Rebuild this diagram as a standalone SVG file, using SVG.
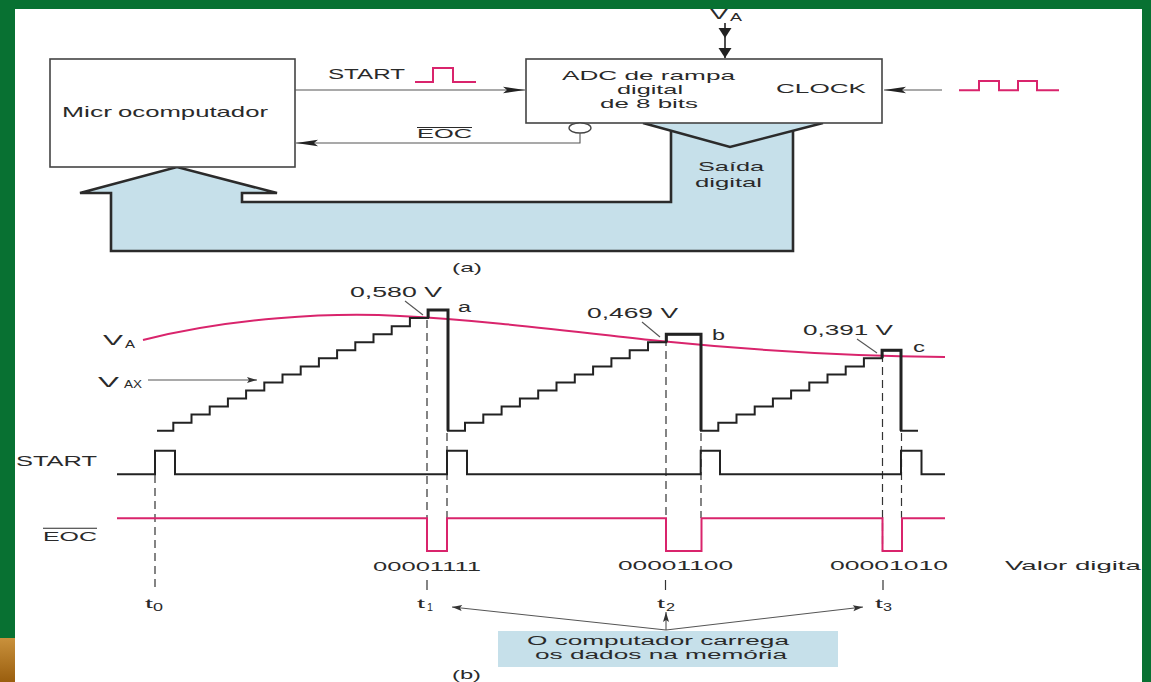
<svg xmlns="http://www.w3.org/2000/svg" width="1151" height="682" viewBox="0 0 1151 682">
<style>
text{font-family:"Liberation Sans",Arial,sans-serif;fill:#2a2a2a}
.box{fill:#fff;stroke:#444;stroke-width:1.6}
.thin{fill:none;stroke:#555;stroke-width:1.1}
.wall{fill:none;stroke:#2b2b2b;stroke-width:2.6;stroke-linejoin:miter}
.pink{fill:none;stroke:#d9246c;stroke-width:2}
.wave{fill:none;stroke:#222;stroke-width:2}
.bold{fill:none;stroke:#222;stroke-width:3}
.dash{fill:none;stroke:#333;stroke-width:1.2;stroke-dasharray:8 5}
.tick{fill:none;stroke:#333;stroke-width:1.2}
</style>
<defs>
<marker id="dart" markerUnits="userSpaceOnUse" markerWidth="24" markerHeight="10" viewBox="-23 -5 24 10" refX="0" refY="0" orient="auto">
<path d="M0,0 L-22,-3.2 L-18,0 L-22,3.2 Z" fill="#222"/>
</marker>
<marker id="tri" markerUnits="userSpaceOnUse" markerWidth="12" markerHeight="16" viewBox="-11 -8 12 16" refX="0" refY="0" orient="auto">
<path d="M0,0 L-10,-6.5 L-10,6.5 Z" fill="#222"/>
</marker>
<marker id="small" markerUnits="userSpaceOnUse" markerWidth="12" markerHeight="8" viewBox="-11 -4 12 8" refX="0" refY="0" orient="auto">
<path d="M0,0 L-10,-3 L-8,0 L-10,3 Z" fill="#333"/>
</marker>
<linearGradient id="org" x1="0" y1="0" x2="0" y2="1">
<stop offset="0" stop-color="#c9913c"/>
<stop offset="1" stop-color="#9a5e0e"/>
</linearGradient>
</defs>
<rect x="0" y="0" width="1151" height="682" fill="#fff"/>

<!-- (a) block diagram -->
<g id="bus">
<path d="M643,123 L823,123 L793,130.7 L793,251 L111,251 L111,193 L80,193 L177,167 L277,193 L242,193 L242,202 L671,202 L671,130.7 Z" fill="#c6e0ea"/>
<path class="wall" d="M643,123 L730,147 L823,123"/>
<path class="wall" d="M793,130.7 L793,251 L111,251 L111,193 L80,193 L177,167 L277,193 L242,193 L242,202 L671,202 L671,130.7"/>
<text x="698" y="171" font-size="13" textLength="66" lengthAdjust="spacingAndGlyphs">Saída</text>
<text x="695" y="187" font-size="13" textLength="67" lengthAdjust="spacingAndGlyphs">digital</text>
</g>
<g id="micro">
<rect class="box" x="50" y="59" width="245" height="108"/>
<text y="117" font-size="14.5"><tspan x="62" textLength="50" lengthAdjust="spacingAndGlyphs">Micr</tspan><tspan x="118" textLength="150" lengthAdjust="spacingAndGlyphs">ocomputador</tspan></text>
</g>
<g id="adc">
<rect class="box" x="526" y="59" width="356" height="64"/>
<text x="562" y="80" font-size="13" textLength="173" lengthAdjust="spacingAndGlyphs">ADC de rampa</text>
<text x="617" y="94" font-size="13" textLength="66" lengthAdjust="spacingAndGlyphs">digital</text>
<text x="600" y="108" font-size="13" textLength="98" lengthAdjust="spacingAndGlyphs">de 8 bits</text>
<text x="776" y="93" font-size="12" textLength="90" lengthAdjust="spacingAndGlyphs">CLOCK</text>
<ellipse cx="580" cy="128" rx="11" ry="5" fill="#fff" stroke="#444" stroke-width="1.3"/>
</g>
<g id="connectors-a">
<line class="thin" x1="295" y1="90" x2="525" y2="90" marker-end="url(#dart)"/>
<polyline class="thin" points="580,133 580,143 296,143" marker-end="url(#dart)"/>
<line class="thin" x1="942" y1="90" x2="884" y2="90" marker-end="url(#dart)"/>
<polyline fill="none" stroke="#222" stroke-width="1.6" points="725,23 725,38 725,58" marker-mid="url(#tri)" marker-end="url(#tri)"/>
</g>
<g id="labels-a">
<text x="328" y="79" font-size="15" textLength="77" lengthAdjust="spacingAndGlyphs">START</text>
<polyline class="pink" points="415,82 433,82 433,68 453,68 453,82 476,82"/>
<text x="417" y="138" font-size="12.5" textLength="55" lengthAdjust="spacingAndGlyphs">EOC</text>
<line x1="417" y1="127.5" x2="472" y2="127.5" stroke="#2a2a2a" stroke-width="1.1"/>
<polyline class="pink" points="959,90.3 979,90.3 979,81 999,81 999,90.3 1018,90.3 1018,81 1037,81 1037,90.3 1059,90.3"/>
<text x="710" y="18.5" font-size="15" textLength="18" lengthAdjust="spacingAndGlyphs">V</text>
<text x="730" y="20.5" font-size="10" textLength="12" lengthAdjust="spacingAndGlyphs">A</text>
<text x="452" y="272" font-size="13" textLength="30" lengthAdjust="spacingAndGlyphs">(a)</text>
</g>

<!-- (b) timing diagram -->
<g id="guides">
<line class="dash" x1="155" y1="475" x2="155" y2="592"/>
<line class="dash" x1="427" y1="320" x2="427" y2="551"/>
<line class="dash" x1="447" y1="433" x2="447" y2="518"/>
<line class="dash" x1="666" y1="338" x2="666" y2="551"/>
<line class="dash" x1="701" y1="433" x2="701" y2="518"/>
<line class="dash" x1="882.5" y1="354" x2="882.5" y2="551"/>
<line class="dash" x1="901.5" y1="433" x2="901.5" y2="518"/>
<line class="tick" x1="427" y1="580" x2="427" y2="590"/>
<line class="tick" x1="665.5" y1="580" x2="665.5" y2="590"/>
<line class="tick" x1="883" y1="580" x2="883" y2="590"/>
</g>
<g id="va-curve">
<path class="pink" d="M143,340 C230,318 330,312 400,316 C480,320 560,330 660,341 C760,351 850,356 945,357"/>
<text x="103" y="345" font-size="15" textLength="20" lengthAdjust="spacingAndGlyphs">V</text>
<text x="125" y="348" font-size="10" textLength="10" lengthAdjust="spacingAndGlyphs">A</text>
</g>
<g id="vax">
<path class="wave" d="M157,430.7 H173.3 V422.7 H191.5 V414.6 H209.7 V406.6 H227.9 V398.5 H246.1 V390.5 H264.3 V382.5 H282.5 V374.4 H300.7 V366.4 H318.9 V358.3 H337.1 V350.3 H355.3 V342.3 H373.5 V334.2 H391.7 V326.2 H409.9 V318.1 H428.1 V310.1 H448 V430.7 H465 V422.7 H483.3 V414.6 H501.6 V406.6 H519.9 V398.5 H538.2 V390.5 H556.5 V382.5 H574.8 V374.4 H593.1 V366.4 H611.4 V358.3 H629.7 V350.3 H648 V342.3 H666.3 V334.2 H701 V430.7 H718.3 V422.7 H736.5 V414.6 H754.7 V406.6 H772.9 V398.5 H791.1 V390.5 H809.3 V382.5 H827.5 V374.4 H845.7 V366.4 H863.9 V358.3 H882.1 V350.3 H901 V430.7 H918"/>
<path class="bold" d="M428.1,318 V310.1 H448 V430.7 M666.3,342 V334.2 H701 V430.7 M882.1,358 V350.3 H901 V430.7"/>
<text x="98" y="387" font-size="15" textLength="21" lengthAdjust="spacingAndGlyphs">V</text>
<text x="124" y="388" font-size="10" textLength="18" lengthAdjust="spacingAndGlyphs">AX</text>
<line class="thin" x1="148" y1="380" x2="257" y2="380" marker-end="url(#small)"/>
</g>
<g id="values">
<text x="350" y="297" font-size="14" textLength="92" lengthAdjust="spacingAndGlyphs">0,580 V</text>
<line class="thin" x1="405" y1="301" x2="423" y2="315"/>
<text x="458" y="312" font-size="14" textLength="13" lengthAdjust="spacingAndGlyphs">a</text>
<text x="587" y="318" font-size="14" textLength="91" lengthAdjust="spacingAndGlyphs">0,469 V</text>
<line class="thin" x1="642" y1="322" x2="660" y2="337"/>
<text x="712" y="340" font-size="14" textLength="13" lengthAdjust="spacingAndGlyphs">b</text>
<text x="803" y="335" font-size="14" textLength="90" lengthAdjust="spacingAndGlyphs">0,391 V</text>
<line class="thin" x1="857" y1="339" x2="877" y2="353"/>
<text x="913" y="352" font-size="14" textLength="12" lengthAdjust="spacingAndGlyphs">c</text>
</g>
<g id="start-wave">
<text x="16" y="466" font-size="14" textLength="81" lengthAdjust="spacingAndGlyphs">START</text>
<path class="wave" d="M117,474.3 H155 V450.7 H175 V474.3 H447 V450.7 H467 V474.3 H700.7 V450.7 H720 V474.3 H901 V450.7 H921.5 V474.3 H945"/>
</g>
<g id="eoc-wave">
<text x="43" y="541" font-size="13" textLength="54" lengthAdjust="spacingAndGlyphs">EOC</text>
<line x1="43" y1="528.3" x2="97" y2="528.3" stroke="#2a2a2a" stroke-width="1.1"/>
<path class="pink" d="M117,518.3 H427 V551 H447 V518.3 H666 V551 H701.5 V518.3 H882.5 V551 H902 V518.3 H945"/>
</g>
<g id="digital-values">
<text x="373" y="571" font-size="13" textLength="108" lengthAdjust="spacingAndGlyphs">00001111</text>
<text x="618" y="570" font-size="13" textLength="115" lengthAdjust="spacingAndGlyphs">00001100</text>
<text x="830" y="570" font-size="13" textLength="118" lengthAdjust="spacingAndGlyphs">00001010</text>
<text x="1005" y="570" font-size="13" textLength="142" lengthAdjust="spacingAndGlyphs">Valor digital</text>
</g>
<g id="times">
<text x="145" y="608" font-size="13" textLength="8" lengthAdjust="spacingAndGlyphs">t</text>
<text x="153" y="611" font-size="11" textLength="10" lengthAdjust="spacingAndGlyphs">0</text>
<text x="417" y="608" font-size="13" textLength="8" lengthAdjust="spacingAndGlyphs">t</text>
<text x="427" y="611" font-size="11" textLength="6" lengthAdjust="spacingAndGlyphs">1</text>
<text x="657" y="608" font-size="13" textLength="8" lengthAdjust="spacingAndGlyphs">t</text>
<text x="666" y="611" font-size="11" textLength="9" lengthAdjust="spacingAndGlyphs">2</text>
<text x="875" y="608" font-size="13" textLength="8" lengthAdjust="spacingAndGlyphs">t</text>
<text x="883" y="611" font-size="11" textLength="9" lengthAdjust="spacingAndGlyphs">3</text>
</g>
<g id="note">
<rect x="498" y="631" width="340" height="36" fill="#c6e0ea"/>
<text x="527" y="645" font-size="12.5" textLength="262" lengthAdjust="spacingAndGlyphs">O computador carrega</text>
<text x="535" y="659" font-size="12.5" textLength="252" lengthAdjust="spacingAndGlyphs">os dados na memória</text>
</g>
<g id="connectors-b">
<line class="thin" x1="666" y1="630" x2="452" y2="607" marker-end="url(#small)"/>
<line class="thin" x1="666" y1="630" x2="863" y2="607" marker-end="url(#small)"/>
<line class="thin" x1="666" y1="630" x2="666" y2="612" marker-end="url(#small)"/>
</g>
<text x="452" y="679" font-size="13" textLength="29" lengthAdjust="spacingAndGlyphs">(b)</text>

<!-- slide frame -->
<path fill="#087132" fill-rule="evenodd" d="M0,0 H1151 V682 H0 Z M15,9 H1142 V682 H15 Z"/>
<rect x="0" y="638" width="15" height="44" fill="url(#org)"/>
</svg>
